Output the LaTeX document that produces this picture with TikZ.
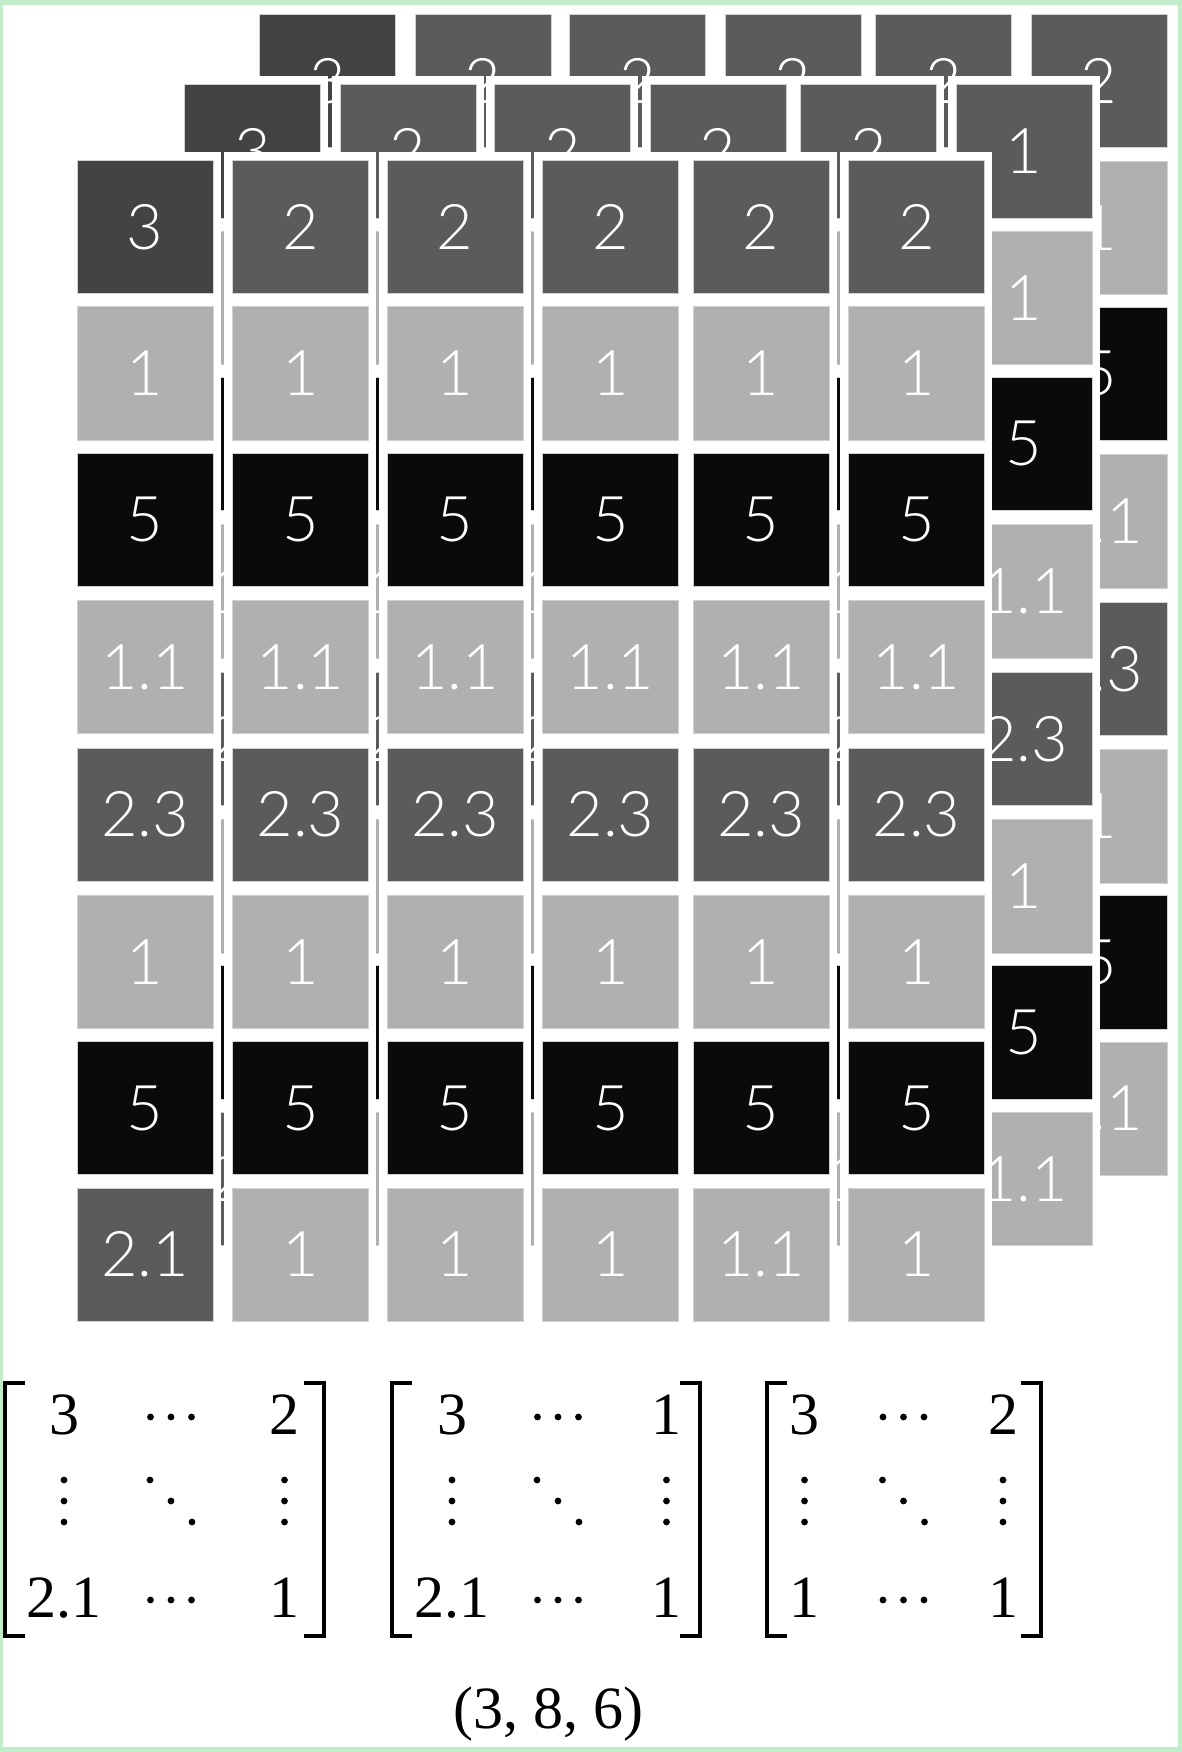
\documentclass[tikz,border=0pt]{standalone}
\usepackage{fontspec}
\IfFontExistsTF{Lato Light}{\newfontfamily\cellfont{Lato Light}}{%
  \IfFontExistsTF{Open Sans Light}{\newfontfamily\cellfont{Open Sans Light}}{%
    \IfFontExistsTF{Fira Sans Light}{\newfontfamily\cellfont{Fira Sans Light}}{%
      \newfontfamily\cellfont{Liberation Sans}}}}
\newfontfamily\matfont{Liberation Serif}
\definecolor{cA}{HTML}{434343}
\definecolor{cB}{HTML}{5B5B5B}
\definecolor{cC}{HTML}{B0B0B0}
\definecolor{cD}{HTML}{0A0A0A}
\definecolor{framegreen}{HTML}{C2EDCB}
\tikzset{
  cellbox/.style={fill=#1, draw=black!18, line width=0.8, minimum width=136, minimum height=133.3,
    inner sep=0, text=white, font=\cellfont\fontsize{63}{63}\selectfont, anchor=north west},
  mtext/.style={inner sep=0, anchor=base, font=\matfont\fontsize{60}{60}\selectfont},
  brk/.style={line width=4, line join=miter, line cap=butt},
}
\newcommand\drawlayer[4]{%
  \foreach \rowlist [count=\r from 0] in {#4} {%
    \foreach \v/\c [count=\k from 0] in \rowlist {%
      \pgfmathsetmacro\cx{#2+{0,155.5,310,465.5,616,771.5}[\k]}%
      \pgfmathsetmacro\cy{#3+{0,146.5,292.5,440,587.5,735,881,1027.5}[\r]}%
      \fill[white] (\cx-8,\cy-8) rectangle (\cx+144,\cy+141.3);
      \node[cellbox=\c] (L#1-\r-\k) at (\cx,\cy) {\v};
    }%
  }%
}
% #1 name, #2 left x, #3 right x, #4 #5 #6 column centres, #7..#9 entries
\newcommand\drawmat[9]{%
  \draw[brk] (#2+22,1383) -- (#2+2,1383) -- (#2+2,1636) -- (#2+22,1636);
  \draw[brk] (#3-22,1383) -- (#3-2,1383) -- (#3-2,1636) -- (#3-22,1636);
  \node[mtext] (#1a) at (#4,1434) {#7};
  \node[mtext] (#1b) at (#6,1434) {#8};
  \node[mtext] (#1c) at (#4,1617) {#9};
  \foreach \dx in {-20.5,0,20.5} {\fill (#5+\dx,1417) circle (3.4); \fill (#5+\dx,1600) circle (3.4);}
  \foreach \dy in {1480,1501,1522} {\fill (#4,\dy) circle (3.4); \fill (#6,\dy) circle (3.4);}
  \fill (#5-21,1480) circle (3.4); \fill (#5,1501) circle (3.4); \fill (#5+21,1522) circle (3.4);
}
\begin{document}
\begin{tikzpicture}[x=1pt,y=-1pt]
\useasboundingbox (0,0) rectangle (1182,1752);
\fill[framegreen] (0,0) rectangle (1182,1752);
\fill[white] (2.5,5.5) rectangle (1177.5,1746.5);
% back layer
\drawlayer{2}{259.2}{14.2}{%
 {3/cA,2/cB,2/cB,2/cB,2/cB,2/cB},
 {1/cC,1/cC,1/cC,1/cC,1/cC,1/cC},
 {5/cD,5/cD,5/cD,5/cD,5/cD,5/cD},
 {1.1/cC,1.1/cC,1.1/cC,1.1/cC,1.1/cC,1.1/cC},
 {2.3/cB,2.3/cB,2.3/cB,2.3/cB,2.3/cB,2.3/cB},
 {1/cC,1/cC,1/cC,1/cC,1/cC,1/cC},
 {5/cD,5/cD,5/cD,5/cD,5/cD,5/cD},
 {1/cC,1/cC,1/cC,1/cC,1.1/cC,1.1/cC}}
% middle layer
\drawlayer{1}{184.3}{84.3}{%
 {3/cA,2/cB,2/cB,2/cB,2/cB,1/cB},
 {1/cC,1/cC,1/cC,1/cC,1/cC,1/cC},
 {5/cD,5/cD,5/cD,5/cD,5/cD,5/cD},
 {1.1/cC,1.1/cC,1.1/cC,1.1/cC,1.1/cC,1.1/cC},
 {2.3/cB,2.3/cB,2.3/cB,2.3/cB,2.3/cB,2.3/cB},
 {1/cC,1/cC,1/cC,1/cC,1/cC,1/cC},
 {5/cD,5/cD,5/cD,5/cD,5/cD,5/cD},
 {2.1/cB,1/cC,1/cC,1/cC,1.1/cC,1.1/cC}}
% front layer
\drawlayer{0}{76.5}{160}{%
 {3/cA,2/cB,2/cB,2/cB,2/cB,2/cB},
 {1/cC,1/cC,1/cC,1/cC,1/cC,1/cC},
 {5/cD,5/cD,5/cD,5/cD,5/cD,5/cD},
 {1.1/cC,1.1/cC,1.1/cC,1.1/cC,1.1/cC,1.1/cC},
 {2.3/cB,2.3/cB,2.3/cB,2.3/cB,2.3/cB,2.3/cB},
 {1/cC,1/cC,1/cC,1/cC,1/cC,1/cC},
 {5/cD,5/cD,5/cD,5/cD,5/cD,5/cD},
 {2.1/cB,1/cC,1/cC,1/cC,1.1/cC,1/cC}}
% matrices
\drawmat{ma}{3}{326}{64}{171}{284.5}{3}{2}{2.1}
\node[mtext] (mad) at (284.5,1617) {1};
\drawmat{mb}{390}{702}{452}{558}{666.5}{3}{1}{2.1}
\node[mtext] (mbd) at (666.5,1617) {1};
\drawmat{mc}{765.4}{1043.4}{804.5}{903.5}{1003}{3}{2}{1}
\node[mtext] (mcd) at (1003,1617) {1};
\node[mtext] (shape) at (548,1728) {(3, 8, 6)};
\end{tikzpicture}
\end{document}
